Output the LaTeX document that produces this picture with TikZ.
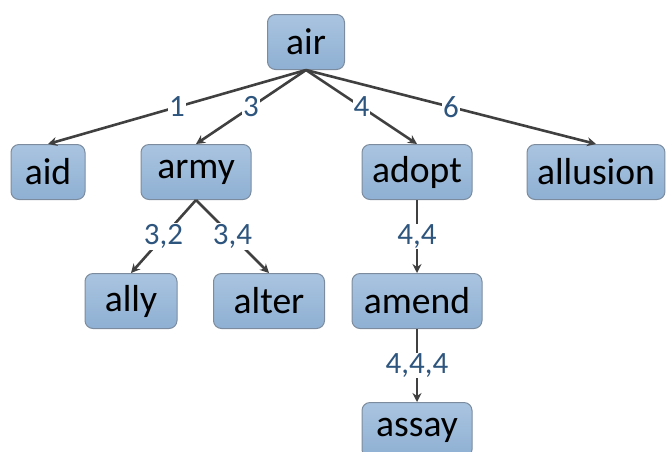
\documentclass[tikz,border=0pt]{standalone}
\usepackage{fontspec}
\setmainfont{Carlito}
\usepackage{tikz}
\usetikzlibrary{arrows.meta,positioning}
\definecolor{boxtop}{HTML}{A9C4E0}
\definecolor{boxbot}{HTML}{8FB0D3}
\definecolor{boxline}{HTML}{7C8C9E}
\definecolor{numblue}{HTML}{2E557E}
\definecolor{linegray}{HTML}{404040}

\begin{document}
\begin{tikzpicture}[
          x=1pt, y=-1pt,
          word/.style={rectangle, draw=boxline, line width=1pt, top color=boxtop, bottom color=boxbot, rounded corners=8pt, minimum height=55pt, minimum width=110pt, inner xsep=10pt, font=\fontsize{37.6}{40}\selectfont},
          link/.style={-{Stealth[length=9pt,width=9pt]}, line width=2.6pt, linegray},
          weight/.style={midway, fill=white, inner sep=1pt, text=numblue, font=\fontsize{31}{33}\selectfont}
      ]
          \clip (0,0) rectangle (671,451);
          \node[word, minimum width=77pt] (Air) at (306,42) {air};
          \node[word, minimum width=74pt] (Aid) at (48,172) {aid};
          \node[word] (Army) at (196,172) {army};
          \node[word] (Adopt) at (417,172) {adopt};
          \node[word, minimum width=137pt] (Allusion) at (596,172) {allusion};
          \node[word, minimum width=92pt] (Ally) at (131,301) {ally};
          \node[word, minimum width=111pt] (Alter) at (269,301) {alter};
          \node[word, minimum width=130pt] (Amend) at (417,301) {amend};
          \node[word] (Assay) at (417,430) {assay};
          \foreach \kid/\w in {Aid/1, Army/3, Adopt/4, Allusion/6} {
              \draw[link] (Air.south) -- (\kid.north) node[weight] {\w};
          }
          \draw[link] (Army.south) -- (Ally.north) node[weight] {3,2};
          \draw[link] (Army.south) -- (Alter.north) node[weight] {3,4};
          \draw[link] (Adopt.south) -- (Amend.north) node[weight] {4,4};
          \draw[link] (Amend.south) -- (Assay.north) node[weight] {4,4,4};
      \end{tikzpicture}
\end{document}
